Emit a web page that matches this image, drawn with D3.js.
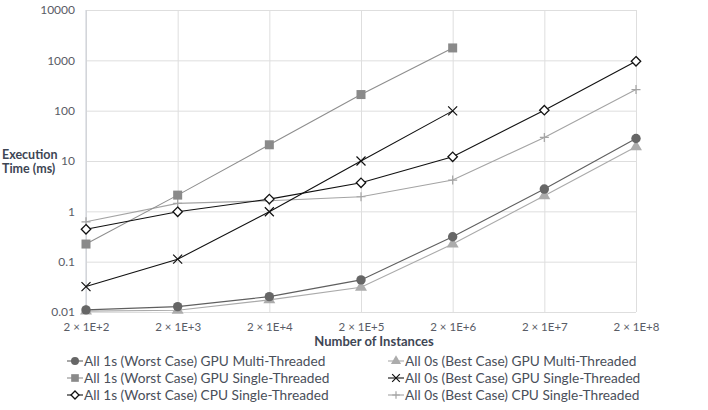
<!DOCTYPE html>
<html><head><meta charset="utf-8">
<script src="https://cdn.jsdelivr.net/npm/d3@7"></script>
<style>body{margin:0;background:#fff}svg{display:block}text{font-family:Lato,"Open Sans",sans-serif}</style>
</head><body><svg id="c" width="708" height="410"></svg>
<script>
const categories = ["2 × 1E+2","2 × 1E+3","2 × 1E+4","2 × 1E+5","2 × 1E+6","2 × 1E+7","2 × 1E+8"];
const yTicks = [0.01,0.1,1,10,100,1000,10000];
const gpuMultiWorst = [0.011,0.0128,0.0202,0.0434,0.313,2.77,28];
const gpuMultiBest  = [0.0104,0.0108,0.0174,0.031,0.224,2.04,19.1];
const gpuSingleWorst= [0.224,2.1,21,209,1763];
const gpuSingleBest = [0.032,0.112,0.98,10,99];
const cpuSingleWorst= [0.44,0.98,1.75,3.69,12.1,102,958];
const cpuSingleBest = [0.62,1.44,1.62,1.95,4.18,29.4,263];
const seriesNames = [
 "All 1s (Worst Case) GPU Multi-Threaded","All 0s (Best Case) GPU Multi-Threaded",
 "All 1s (Worst Case) GPU Single-Threaded","All 0s (Best Case) GPU Single-Threaded",
 "All 1s (Worst Case) CPU Single-Threaded","All 0s (Best Case) CPU Single-Threaded"];

const series = [
 {name:seriesNames[0],values:gpuMultiWorst,color:"#5f5f5f",marker:"circle",fill:"#666666"},
 {name:seriesNames[1],values:gpuMultiBest,color:"#aaaaaa",marker:"triangle",fill:"#acacac"},
 {name:seriesNames[2],values:gpuSingleWorst,color:"#8e8e8e",marker:"square",fill:"#8a8a8a"},
 {name:seriesNames[3],values:gpuSingleBest,color:"#111111",marker:"x",fill:"none"},
 {name:seriesNames[4],values:cpuSingleWorst,color:"#111111",marker:"diamond",fill:"#ffffff"},
 {name:seriesNames[5],values:cpuSingleBest,color:"#a4a4a4",marker:"plus",fill:"none"}];

const svg = d3.select("#c");
const L=86,R=636,T=10,B=312;
const x = d3.scalePoint().domain(categories).range([L,R]);
const y = d3.scaleLog().domain([0.01,10000]).range([B,T]);

const gridY = d3.axisLeft(y).tickValues(yTicks).tickSize(-(R-L)).tickFormat("");
svg.append("g").attr("transform",`translate(${L},0)`).call(gridY)
  .call(g=>g.select(".domain").remove())
  .call(g=>g.selectAll("line").attr("stroke","#dedede"));
const gridX = d3.axisBottom(x).tickSize(-(B-T)).tickFormat("");
svg.append("g").attr("transform",`translate(0,${B})`).call(gridX)
  .call(g=>g.select(".domain").remove())
  .call(g=>g.selectAll("line").attr("stroke","#dedede"));
svg.append("line").attr("x1",L).attr("x2",L).attr("y1",T).attr("y2",B).attr("stroke","#c8ccd4");

const yAx = d3.axisLeft(y).tickValues(yTicks).tickSize(0).tickPadding(11)
  .tickFormat(d=>d>=1?d3.format("d")(d):String(d));
svg.append("g").attr("transform",`translate(${L},0)`).call(yAx)
  .call(g=>g.select(".domain").remove())
  .call(g=>g.selectAll("text").attr("fill","#595c66").style("font-size","12px").style("font-family","Lato,sans-serif"));
const xAx = d3.axisBottom(x).tickSize(0).tickPadding(11);
svg.append("g").attr("transform",`translate(0,${B})`).call(xAx)
  .call(g=>g.select(".domain").remove())
  .call(g=>g.selectAll("text").attr("fill","#595c66").style("font-size","11.5px").style("font-family","Lato,sans-serif"));

svg.append("text").attr("x",374).attr("y",345.5).attr("text-anchor","middle")
  .attr("fill","#3e4654").style("font-weight","bold").style("font-size","13px").text("Number of Instances");
const yt = svg.append("text").attr("x",2).attr("fill","#3e4654").style("font-weight","bold").style("font-size","12.5px");
yt.append("tspan").attr("x",2).attr("y",159).text("Execution");
yt.append("tspan").attr("x",2).attr("y",173).text("Time (ms)");

function drawMarker(g,type,cx,cy,s,color,fill){
  if(type==="circle") g.append("circle").attr("cx",cx).attr("cy",cy).attr("r",4.7*s).attr("fill",fill);
  else if(type==="triangle") g.append("path").attr("d",d3.symbol(d3.symbolTriangle,62*s*s)()).attr("transform",`translate(${cx},${cy})`).attr("fill",fill);
  else if(type==="square") g.append("rect").attr("x",cx-4.5*s).attr("y",cy-4.5*s).attr("width",9*s).attr("height",9*s).attr("fill",fill);
  else if(type==="diamond") g.append("path").attr("d",`M${cx},${cy-4.7*s}L${cx+4.7*s},${cy}L${cx},${cy+4.7*s}L${cx-4.7*s},${cy}Z`).attr("fill",fill).attr("stroke",color).attr("stroke-width",1.3);
  else if(type==="x") g.append("path").attr("d",`M${cx-4.5*s},${cy-4.5*s}L${cx+4.5*s},${cy+4.5*s}M${cx-4.5*s},${cy+4.5*s}L${cx+4.5*s},${cy-4.5*s}`).attr("stroke",color).attr("stroke-width",1.2);
  else if(type==="plus") g.append("path").attr("d",`M${cx-4.5*s},${cy}L${cx+4.5*s},${cy}M${cx},${cy-4.5*s}L${cx},${cy+4.5*s}`).attr("stroke",color).attr("stroke-width",1.2);
}

const line = d3.line().x((d,i)=>x(categories[i])).y(d=>y(d));
const order=[1,0,5,2,3,4];
order.forEach(k=>{
  const s=series[k];
  svg.append("path").datum(s.values).attr("d",line).attr("fill","none").attr("stroke",s.color).attr("stroke-width",1.1);
});
order.forEach(k=>{
  const s=series[k];
  const g=svg.append("g");
  s.values.forEach((v,i)=>drawMarker(g,s.marker,x(categories[i]),y(v),1,s.color,s.fill));
});

const legX=[67,388], legY=[361,378,395];
series.forEach((s,k)=>{
  const col=k%2,row=Math.floor(k/2);
  const lx=legX[col], ly=legY[row];
  const g=svg.append("g");
  g.append("line").attr("x1",lx).attr("x2",lx+16).attr("y1",ly).attr("y2",ly).attr("stroke",s.color).attr("stroke-width",1.1);
  drawMarker(g,s.marker,lx+8,ly,0.85,s.color,s.fill);
  g.append("text").attr("x",lx+17).attr("y",ly+5).attr("fill","#4a4f5a").style("font-size","13.7px").text(s.name);
});
</script></body></html>
